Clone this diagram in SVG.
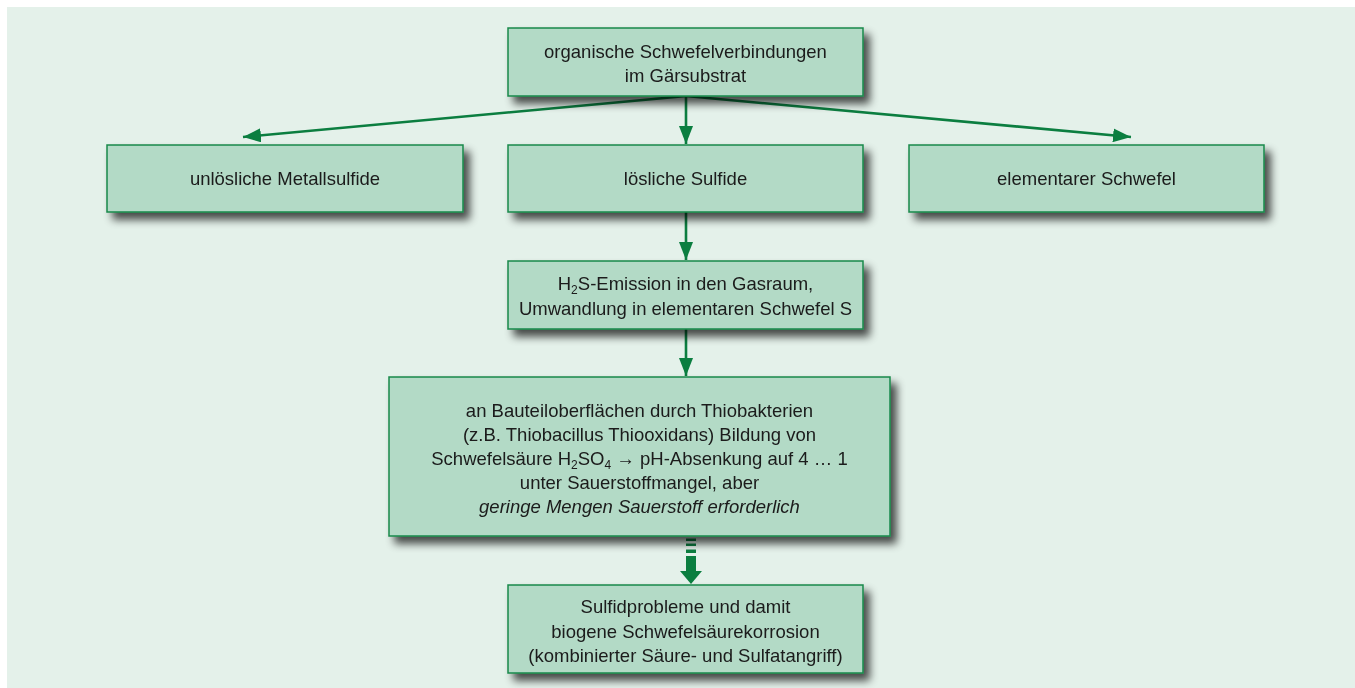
<svg xmlns="http://www.w3.org/2000/svg" width="1355" height="688" viewBox="0 0 1355 688">
<defs>
<style>
.box{fill:#b3dac6;stroke:#17894b;stroke-width:1.5}
.t{font-family:"Liberation Sans",Arial,sans-serif;font-size:18.5px;fill:#1a1a1a;text-anchor:middle}
.sub{font-size:12px}
.conn{stroke:#0b7e40;stroke-width:2.6;fill:none}
</style>
<filter id="sh" x="-10%" y="-20%" width="130%" height="160%">
<feOffset in="SourceAlpha" dx="6" dy="7" result="o"/>
<feGaussianBlur in="o" stdDeviation="4.5" result="b"/>
<feComponentTransfer in="b" result="c"><feFuncA type="linear" slope="0.7"/></feComponentTransfer>
<feMerge><feMergeNode in="c"/><feMergeNode in="SourceGraphic"/></feMerge>
</filter>
<marker id="ah" markerUnits="userSpaceOnUse" markerWidth="20" markerHeight="14" refX="18" refY="7" orient="auto">
<path d="M0,0 L18,7 L0,14 Z" fill="#0b7e40"/>
</marker>
</defs>
<rect x="0" y="0" width="1355" height="688" fill="#ffffff"/>
<rect x="7" y="7" width="1348" height="681" fill="#e4f1ea"/>

<g id="connectors">
<line class="conn" x1="686" y1="96" x2="243" y2="137" marker-end="url(#ah)"/>
<line class="conn" x1="686" y1="96" x2="1131" y2="137" marker-end="url(#ah)"/>
<line class="conn" x1="686" y1="96" x2="686" y2="144" marker-end="url(#ah)"/>
<line class="conn" x1="686" y1="212" x2="686" y2="260" marker-end="url(#ah)"/>
<line class="conn" x1="686" y1="329" x2="686" y2="376" marker-end="url(#ah)"/>
<g id="thick-arrow" fill="#0b7e40">
<rect x="686" y="538.5" width="10" height="2.5"/>
<rect x="686" y="543.5" width="10" height="2.5"/>
<rect x="686" y="549.5" width="10" height="3.5"/>
<rect x="686" y="556" width="10" height="15.5"/>
<path d="M680,571 L702,571 L691,584 Z"/>
</g>
</g>

<g id="n-organisch" filter="url(#sh)">
<rect class="box" x="508" y="28" width="355" height="68"/>
<text class="t" x="685.5" y="57.5">organische Schwefelverbindungen</text>
<text class="t" x="685.5" y="82">im Gärsubstrat</text>
</g>
<g id="n-unloeslich" filter="url(#sh)">
<rect class="box" x="107" y="145" width="356" height="67"/>
<text class="t" x="285" y="185">unlösliche Metallsulfide</text>
</g>
<g id="n-loeslich" filter="url(#sh)">
<rect class="box" x="508" y="145" width="355" height="67"/>
<text class="t" x="685.5" y="185">lösliche Sulfide</text>
</g>
<g id="n-elementar" filter="url(#sh)">
<rect class="box" x="909" y="145" width="355" height="67"/>
<text class="t" x="1086.5" y="185">elementarer Schwefel</text>
</g>
<g id="n-h2s" filter="url(#sh)">
<rect class="box" x="508" y="261" width="355" height="68"/>
<text class="t" x="685.5" y="289.5">H<tspan class="sub" dy="4">2</tspan><tspan dy="-4">S-Emission in den Gasraum,</tspan></text>
<text class="t" x="685.5" y="314.5">Umwandlung in elementaren Schwefel S</text>
</g>
<g id="n-thiobakterien" filter="url(#sh)">
<rect class="box" x="389" y="377" width="501" height="159"/>
<text class="t" x="639.5" y="417">an Bauteiloberflächen durch Thiobakterien</text>
<text class="t" x="639.5" y="441">(z.B. Thiobacillus Thiooxidans) Bildung von</text>
<text class="t" x="639.5" y="465">Schwefelsäure H<tspan class="sub" dy="4">2</tspan><tspan dy="-4">SO</tspan><tspan class="sub" dy="4">4</tspan><tspan dy="-4"> → pH-Absenkung auf 4 … 1</tspan></text>
<text class="t" x="639.5" y="489">unter Sauerstoffmangel, aber</text>
<text class="t" x="639.5" y="513" font-style="italic">geringe Mengen Sauerstoff erforderlich</text>
</g>
<g id="n-sulfidprobleme" filter="url(#sh)">
<rect class="box" x="508" y="585" width="355" height="88"/>
<text class="t" x="685.5" y="613">Sulfidprobleme und damit</text>
<text class="t" x="685.5" y="637.5">biogene Schwefelsäurekorrosion</text>
<text class="t" x="685.5" y="662">(kombinierter Säure- und Sulfatangriff)</text>
</g>
</svg>
